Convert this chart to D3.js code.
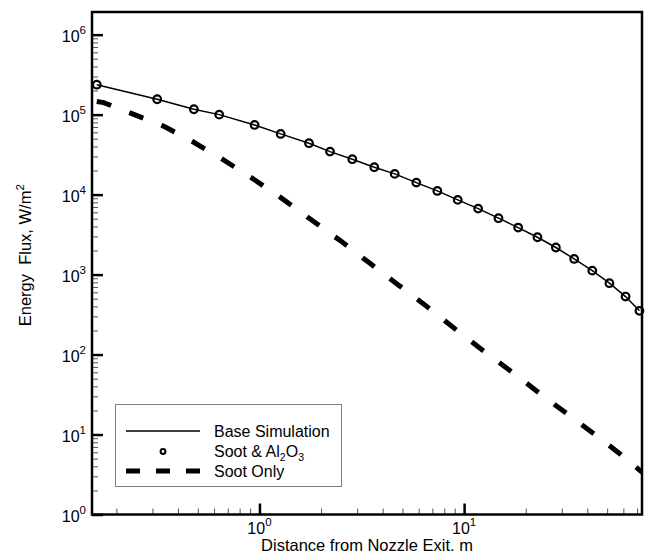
<!DOCTYPE html>
<html>
<head>
<meta charset="utf-8">
<script src="https://cdn.jsdelivr.net/npm/d3@7"></script>
<style>
  html, body { margin: 0; padding: 0; background: #fff; }
  text { font-family: "Liberation Sans", Arial, sans-serif; fill: #000; }
</style>
</head>
<body>
<svg id="chart" width="650" height="555"></svg>
<script>
// ---------------- data ----------------
const baseX = [0.1604, 0.3165, 0.4783, 0.636, 0.947, 1.27, 1.746, 2.212, 2.843, 3.64, 4.58, 5.84,
               7.40, 9.31, 11.71, 14.72, 18.37, 22.83, 28.08, 34.5, 42.3, 51.3, 61.5, 71.9];
const baseY = [2.37e5, 1.557e5, 1.168e5, 1.0e5, 7.43e4, 5.74e4, 4.39e4, 3.45e4, 2.77e4, 2.20e4, 1.815e4, 1.413e4,
               1.112e4, 8.59e3, 6.68e3, 5.07e3, 3.87e3, 2.93e3, 2.18e3, 1.57e3, 1.12e3, 781, 531, 352];
const sootX = [0.1604, 0.1734, 0.2415, 0.3374, 0.4687, 0.6512, 0.9088, 1.267, 1.764, 2.454, 3.428, 4.767,
               6.661, 9.21, 12.81, 17.89, 24.73, 34.3, 45.6, 58.3, 71.7, 74.2];
const sootY = [1.462e5, 1.413e5, 1.014e5, 7.24e4, 4.64e4, 2.82e4, 1.641e4, 9.23e3, 4.98e3, 2.716e3, 1.413e3, 743,
               389, 201, 105, 55.7, 29.3, 15.8, 9.17, 5.62, 3.62, 3.37];
const xMajorTicks = [1, 10];
const xMinorTicks = [0.2, 0.3, 0.4, 0.5, 0.6, 0.7, 0.8, 0.9, 2, 3, 4, 5, 6, 7, 8, 9, 20, 30, 40, 50, 60, 70];
const xTickExps = ["0", "1"];
const yMajorTicks = [1, 10, 100, 1e3, 1e4, 1e5, 1e6];
const yTickExps = ["0", "1", "2", "3", "4", "5", "6"];
const legendLabels = ["Base Simulation", "Soot & Al", "Soot Only"];
const xTitle = "Distance from Nozzle Exit. m";
const yTitle = "Energy  Flux, W/m";

// ---------------- layout ----------------
const L = 92, R = 642, T = 12, B = 514.5;
const svg = d3.select("#chart");
svg.append("rect").attr("width", 650).attr("height", 555).attr("fill", "#fff");

const x = d3.scaleLog().domain([0.152, 74]).range([L, R]);
const y = d3.scaleLog().domain([1, 1.92e6]).range([B, T]);

const yMinorTicks = [];
for (let e = 0; e < 6; e++) for (let k = 2; k <= 9; k++) yMinorTicks.push(k * Math.pow(10, e));

svg.append("clipPath").attr("id", "clip").append("rect")
  .attr("x", L).attr("y", T).attr("width", R - L).attr("height", B - T);

// ---------------- axes (ticks inward) ----------------
const gxMinor = svg.append("g").attr("transform", `translate(0,${B})`)
  .call(d3.axisBottom(x).tickValues(xMinorTicks).tickSize(-6).tickFormat(""));
gxMinor.selectAll("line").attr("stroke", "#555").attr("stroke-width", 1);
const gxMajor = svg.append("g").attr("transform", `translate(0,${B})`)
  .call(d3.axisBottom(x).tickValues(xMajorTicks).tickSize(-11).tickFormat(""));
gxMajor.selectAll("line").attr("stroke", "#000").attr("stroke-width", 2.5);

const gyMinor = svg.append("g").attr("transform", `translate(${L},0)`)
  .call(d3.axisLeft(y).tickValues(yMinorTicks).tickSize(-6).tickFormat(""));
gyMinor.selectAll("line").attr("stroke", "#555").attr("stroke-width", 1);
const gyMajor = svg.append("g").attr("transform", `translate(${L},0)`)
  .call(d3.axisLeft(y).tickValues(yMajorTicks).tickSize(-11).tickFormat(""));
gyMajor.selectAll("line").attr("stroke", "#000").attr("stroke-width", 2.5);
svg.selectAll(".domain").remove();

// tick labels
yMajorTicks.forEach((v, i) => {
  const t = svg.append("text").attr("x", 86).attr("y", y(v) + 7)
    .attr("text-anchor", "end").attr("font-size", 16);
  t.append("tspan").text("10");
  t.append("tspan").attr("dy", -8).attr("font-size", 11.5).text(yTickExps[i]);
});
xMajorTicks.forEach((v, i) => {
  const t = svg.append("text").attr("x", x(v)).attr("y", 533.5)
    .attr("text-anchor", "middle").attr("font-size", 16);
  t.append("tspan").text("10");
  t.append("tspan").attr("dy", -8).attr("font-size", 11.5).text(xTickExps[i]);
});

// axis titles
svg.append("text").attr("x", 367).attr("y", 551)
  .attr("text-anchor", "middle").attr("font-size", 16.5).text(xTitle);
const yt = svg.append("text")
  .attr("transform", `translate(31,${(T + B) / 2 - 8}) rotate(-90)`)
  .attr("text-anchor", "middle").attr("font-size", 16.5).attr("xml:space", "preserve");
yt.append("tspan").text(yTitle);
yt.append("tspan").attr("dy", -7).attr("font-size", 11.5).text("2");

// ---------------- series ----------------
const plot = svg.append("g").attr("clip-path", "url(#clip)");
const baseData = baseX.map((d, i) => [d, baseY[i]]);
const sootData = sootX.map((d, i) => [d, sootY[i]]);
const line = d3.line().x(d => x(d[0])).y(d => y(d[1]));

const sootPath = plot.append("path").datum(sootData).attr("d", line)
  .attr("fill", "none").attr("stroke", "#000").attr("stroke-width", 5);
// fit the dash pattern so it starts with a dash and ends inside a dash
const len = sootPath.node().getTotalLength();
const dash = 15, k = Math.round((len - 8) / 35);
const gap = (len - 8) / k - dash;
sootPath.attr("stroke-dasharray", `${dash},${gap.toFixed(2)}`);

plot.append("path").datum(baseData).attr("d", line)
  .attr("fill", "none").attr("stroke", "#000").attr("stroke-width", 1.5);

svg.append("g").selectAll("circle").data(baseData).join("circle")
  .attr("cx", d => x(d[0])).attr("cy", d => y(d[1])).attr("r", 3.8)
  .attr("fill", "none").attr("stroke", "#000").attr("stroke-width", 2.2);

// frame
svg.append("rect").attr("x", L).attr("y", T).attr("width", R - L).attr("height", B - T)
  .attr("fill", "none").attr("stroke", "#000").attr("stroke-width", 2.5);

// ---------------- legend ----------------
const lg = svg.append("g");
lg.append("rect").attr("x", 115.5).attr("y", 404.5).attr("width", 226).attr("height", 82)
  .attr("fill", "#fff").attr("stroke", "#808080").attr("stroke-width", 1);
const rows = [431, 451.5, 471];
lg.append("line").attr("x1", 126).attr("x2", 200).attr("y1", rows[0]).attr("y2", rows[0])
  .attr("stroke", "#000").attr("stroke-width", 1.5);
lg.append("circle").attr("cx", 163).attr("cy", rows[1]).attr("r", 2.4)
  .attr("fill", "none").attr("stroke", "#000").attr("stroke-width", 2);
lg.append("line").attr("x1", 126).attr("x2", 200).attr("y1", rows[2]).attr("y2", rows[2])
  .attr("stroke", "#000").attr("stroke-width", 5).attr("stroke-dasharray", "14,16");
legendLabels.forEach((s, i) => {
  const t = lg.append("text").attr("x", 214).attr("y", rows[i] + 5.5).attr("font-size", 16);
  t.append("tspan").text(s);
  if (i === 1) {
    t.append("tspan").attr("dy", 4).attr("font-size", 10.5).text("2");
    t.append("tspan").attr("dy", -4).attr("font-size", 16).text("O");
    t.append("tspan").attr("dy", 4).attr("font-size", 10.5).text("3");
  }
});
</script>
</body>
</html>
